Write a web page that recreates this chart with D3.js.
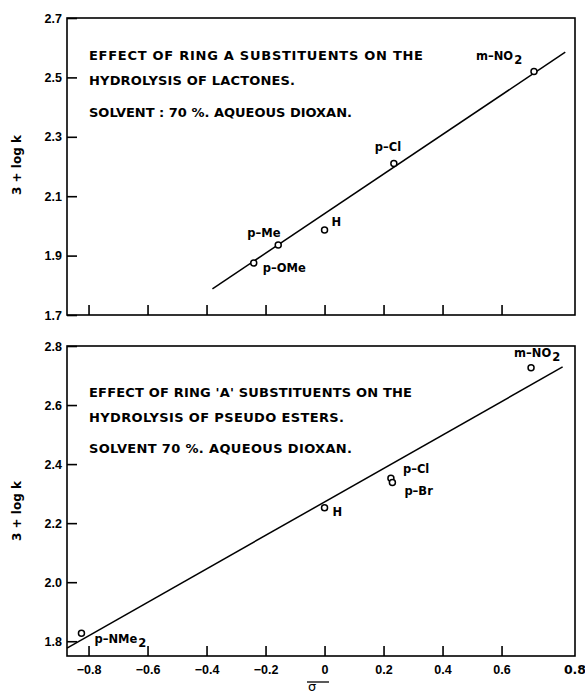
<!DOCTYPE html>
<html>

<head>
    <meta charset="utf-8">
    <style>
        body {
            margin: 0;
            background: white;
        }

        svg {
            display: block;
            font-family: 'DejaVu Sans', sans-serif;
        }

        .tick text {
            font-size: 12.5px;
            font-weight: bold;
        }

        .note {
            font-size: 13px;
            font-weight: bold;
        }

        .plabel {
            font-size: 11.5px;
            font-weight: bold;
        }
    </style>
</head>

<body>
    <svg width="585" height="694"></svg>
</body>

<script src="https://d3js.org/d3.v7.min.js"></script>

<script>
    // ---- data ----
    // x axis: sigma
    let xTicks = [-0.8, -0.6, -0.4, -0.2, 0, 0.2, 0.4, 0.6]
    let xEndLabel = "0.8"

    // top panel: lactones
    let topNames = ["m-NO2", "p-Cl", "H", "p-Me", "p-OMe"]
    let topSigma = [0.71, 0.235, 0.0, -0.157, -0.24]
    let topLogk = [2.52, 2.21, 1.986, 1.936, 1.875]
    let topFit = [[-0.38, 1.788], [0.816, 2.585]]
    let topYTicks = [1.7, 1.9, 2.1, 2.3, 2.5, 2.7]
    let topNotes = ["EFFECT OF RING A SUBSTITUENTS ON THE", "HYDROLYSIS OF LACTONES.", "SOLVENT : 70 %. AQUEOUS DIOXAN."]

    // bottom panel: pseudo esters
    let botNames = ["m-NO2", "p-Cl", "p-Br", "H", "p-NMe2"]
    let botSigma = [0.70, 0.225, 0.23, 0.0, -0.824]
    let botLogk = [2.726, 2.352, 2.338, 2.252, 1.827]
    let botFit = [[-0.873, 1.777], [0.807, 2.729]]
    let botYTicks = [1.8, 2.0, 2.2, 2.4, 2.6, 2.8]
    let botNotes = ["EFFECT OF RING 'A' SUBSTITUENTS ON THE", "HYDROLYSIS OF PSEUDO ESTERS.", "SOLVENT 70 %. AQUEOUS DIOXAN."]

    // ---- layout ----
    let left = 67, right = 575
    let svg = d3.select("svg")

    let x = d3.scaleLinear().domain([-0.873, 0.849]).range([left, right])

    // label offsets (px) from the point
    let topOff = {
        "m-NO2": [-58, -11], "p-Cl": [-19, -13], "H": [7, -4], "p-Me": [-31, -8], "p-OMe": [9, 9]
    }
    let botOff = {
        "m-NO2": [-17, -11], "p-Cl": [12, -5], "p-Br": [12, 13], "H": [8, 8], "p-NMe2": [13, 10]
    }

    function panel(cfg) {
        let y = d3.scaleLinear().domain(cfg.yDomain).range([cfg.bottom, cfg.top])
        let g = svg.append("g")

        // y axis with inward ticks
        let yAxis = g.append("g")
            .attr("transform", "translate(" + left + ",0)")
            .call(d3.axisLeft(y).tickValues(cfg.yTicks).tickSize(-10).tickPadding(5)
                .tickFormat(d3.format(".1f")))
        yAxis.select(".domain").remove()
        yAxis.selectAll("line").attr("stroke-width", 1.6)

        // x axis ticks, inward
        let xAxis = g.append("g")
            .attr("transform", "translate(0," + cfg.bottom + ")")
            .call(d3.axisBottom(x).tickValues(xTicks).tickSize(-10).tickPadding(9)
                .tickFormat(d => d === 0 ? "0" : (d < 0 ? "\u2212" + Math.abs(d).toFixed(1) : d.toFixed(1))))
        xAxis.select(".domain").remove()
        xAxis.selectAll("line").attr("stroke-width", 1.6)
        if (!cfg.xLabels) xAxis.selectAll("text").remove()
        else {
            g.append("text")
                .attr("x", right)
                .attr("y", cfg.bottom + 9)
                .attr("dy", "0.71em")
                .attr("text-anchor", "middle")
                .style("font-size", "12.5px")
                .style("font-weight", "bold")
                .text(xEndLabel)
        }

        // frame
        g.append("rect")
            .attr("x", left).attr("y", cfg.top)
            .attr("width", right - left).attr("height", cfg.bottom - cfg.top)
            .attr("fill", "none")
            .attr("stroke", "black")
            .attr("stroke-width", 1.6)

        // fitted line
        g.append("path")
            .datum(cfg.fit)
            .attr("fill", "none")
            .attr("stroke", "black")
            .attr("stroke-width", 1.5)
            .attr("d", d3.line().x(d => x(d[0])).y(d => y(d[1])))

        // points
        let pts = cfg.names.map((n, i) => ({ name: n, s: cfg.sigma[i], v: cfg.logk[i] }))
        g.selectAll(".pt")
            .data(pts)
            .join("circle")
            .attr("class", "pt")
            .attr("cx", d => x(d.s))
            .attr("cy", d => y(d.v))
            .attr("r", 3)
            .attr("fill", "white")
            .attr("stroke", "black")
            .attr("stroke-width", 1.5)

        // point labels with subscripts
        let lab = g.selectAll(".plabel")
            .data(pts)
            .join("text")
            .attr("class", "plabel")
            .attr("x", d => x(d.s) + cfg.off[d.name][0])
            .attr("y", d => y(d.v) + cfg.off[d.name][1])
        lab.each(function (d) {
            let t = d3.select(this)
            let m = d.name.match(/^(.*?)(\d)$/)
            if (m) {
                t.append("tspan").text(m[1].replace("-", "\u2013"))
                t.append("tspan").attr("dy", 4).attr("dx", 1).text(m[2])
            } else {
                t.text(d.name.replace("-", "\u2013"))
            }
        })

        // notes
        g.selectAll(".note")
            .data(cfg.notes)
            .join("text")
            .attr("class", "note")
            .attr("x", 89)
            .attr("y", (d, i) => cfg.noteY[i])
            .attr("textLength", (d, i) => cfg.noteW[i])
            .attr("lengthAdjust", "spacing")
            .text(d => d)

        // y title
        g.append("text")
            .attr("transform", "translate(21," + cfg.titleY + ") rotate(-90)")
            .attr("text-anchor", "middle")
            .style("font-size", "12px")
            .style("font-weight", "bold")
            .text("3 + log k")
    }

    panel({
        top: 18, bottom: 315, yDomain: [1.7, 2.7], yTicks: topYTicks,
        names: topNames, sigma: topSigma, logk: topLogk, fit: topFit, off: topOff,
        notes: topNotes, noteY: [60, 85, 117], noteW: [334, 206, 263], titleY: 165, xLabels: false
    })

    panel({
        top: 346, bottom: 656, yDomain: [1.75, 2.8], yTicks: botYTicks,
        names: botNames, sigma: botSigma, logk: botLogk, fit: botFit, off: botOff,
        notes: botNotes, noteY: [397, 422, 453], noteW: [323, 255, 263], titleY: 511, xLabels: true
    })

    // sigma label with bar
    svg.append("text")
        .attr("x", 312)
        .attr("y", 691)
        .attr("text-anchor", "middle")
        .style("font-size", "13px")
        .text("\u03c3")
    svg.append("line")
        .attr("x1", 307).attr("x2", 329)
        .attr("y1", 682).attr("y2", 682)
        .attr("stroke", "black")
        .attr("stroke-width", 1.3)
</script>

</html>
